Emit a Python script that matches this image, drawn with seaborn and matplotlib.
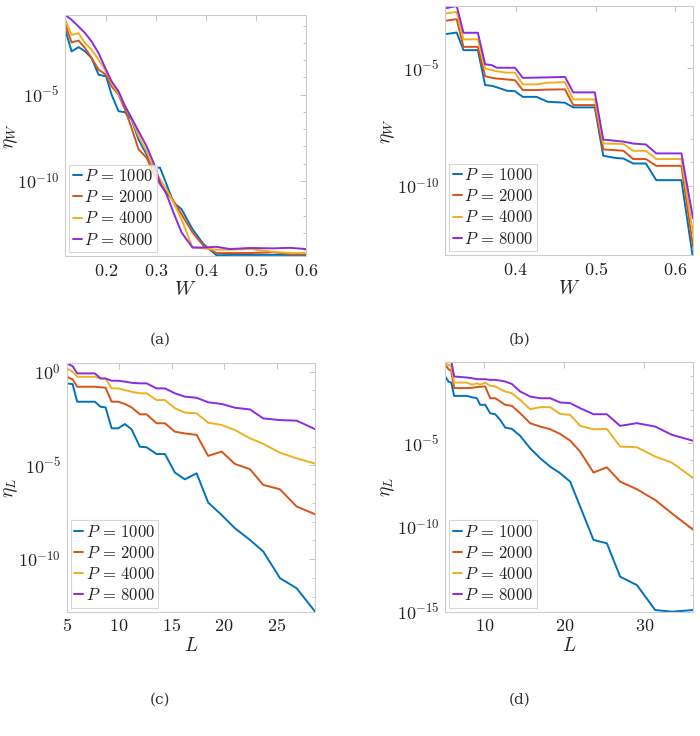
import matplotlib
matplotlib.use("Agg")
import matplotlib.pyplot as plt
import matplotlib.ticker as mticker
import numpy as np
import pandas as pd
import seaborn as sb

# ---- data (values are log10 of eta) ----
P_vals = [1000, 2000, 4000, 8000]
colors = ["#0072BD", "#D95319", "#EDB120", "#8A2BE2"]

# (a) eta_W vs W
W_a = [0.118, 0.131, 0.145, 0.158, 0.171, 0.185, 0.2, 0.211, 0.225, 0.238, 0.251, 0.265, 0.281,
       0.295, 0.308, 0.321, 0.335, 0.351, 0.373, 0.395, 0.421, 0.448, 0.488, 0.535, 0.568, 0.6]
logeta_a_1000 = [-1.21, -2.50, -2.25, -2.50, -2.88, -3.85, -3.94, -5.0, -5.96, -6.02, -6.44, -7.60, -8.46,
                 -9.23, -9.23, -10.19, -11.25, -11.63, -12.79, -13.65, -14.30, -14.28, -14.28, -14.28, -14.28, -14.28]
logeta_a_2000 = [-0.90, -1.98, -1.87, -2.31, -2.88, -3.56, -3.85, -4.52, -5.0, -5.87, -6.92, -8.17, -8.65,
                 -9.52, -10.19, -10.67, -11.15, -11.92, -12.98, -13.75, -14.17, -14.17, -14.17, -14.13, -14.23, -14.23]
logeta_a_4000 = [-0.67, -1.54, -1.44, -2.02, -2.40, -2.98, -3.65, -4.33, -4.96, -5.67, -6.40, -7.40, -8.27,
                 -9.23, -9.90, -10.48, -11.25, -12.21, -13.85, -13.90, -13.98, -13.98, -13.94, -14.10, -14.17, -14.17]
logeta_a_8000 = [-0.38, -0.67, -1.06, -1.44, -1.92, -2.60, -3.56, -4.23, -4.81, -5.67, -6.35, -7.12, -7.98,
                 -8.94, -10.10, -10.77, -11.83, -12.98, -13.85, -13.85, -13.81, -13.94, -13.88, -13.90, -13.87, -13.94]

# (b) eta_W vs W
W_b = [0.3116, 0.326, 0.3345, 0.3525, 0.3616, 0.370, 0.376, 0.389, 0.399, 0.4087, 0.426, 0.44,
       0.4616, 0.472, 0.499, 0.5096, 0.524, 0.535, 0.547, 0.563, 0.576, 0.6075, 0.622]
logeta_b_1000 = [-3.54, -3.47, -4.22, -4.22, -5.71, -5.74, -5.80, -5.95, -5.97, -6.21, -6.21, -6.42,
                 -6.46, -6.66, -6.66, -8.72, -8.81, -8.84, -9.05, -9.05, -9.76, -9.76, -13.1]
logeta_b_2000 = [-2.97, -2.90, -4.08, -4.08, -5.33, -5.40, -5.43, -5.47, -5.50, -5.92, -5.92, -5.90,
                 -5.89, -6.56, -6.56, -8.45, -8.48, -8.51, -8.86, -8.86, -9.15, -9.15, -12.6]
logeta_b_4000 = [-2.66, -2.59, -3.76, -3.76, -5.0, -5.07, -5.12, -5.18, -5.18, -5.68, -5.68, -5.61,
                 -5.58, -6.32, -6.32, -8.20, -8.21, -8.22, -8.51, -8.51, -8.86, -8.86, -12.03]
logeta_b_8000 = [-2.44, -2.34, -3.48, -3.48, -4.82, -4.86, -4.97, -4.97, -4.97, -5.40, -5.39, -5.38,
                 -5.36, -6.02, -6.02, -8.03, -8.08, -8.12, -8.20, -8.24, -8.62, -8.62, -11.39]

# (c) eta_L vs L
L_c = [5.0, 5.56, 6.0, 7.68, 8.23, 8.7, 9.28, 9.9, 10.54, 11.18, 11.97, 12.61, 13.56,
       14.36, 15.31, 16.26, 17.38, 18.48, 19.76, 21.03, 22.46, 23.73, 25.32, 26.91, 28.66]
logeta_c_1000 = [-0.62, -0.66, -1.60, -1.60, -1.87, -1.90, -3.02, -3.02, -2.79, -3.07, -4.0, -4.03, -4.39,
                 -4.39, -5.38, -5.74, -5.42, -6.98, -7.64, -8.35, -8.97, -9.59, -11.01, -11.55, -12.79]
logeta_c_2000 = [-0.27, -0.41, -0.80, -0.80, -0.83, -0.85, -1.60, -1.60, -1.72, -1.90, -2.27, -2.27, -2.75,
                 -2.75, -3.20, -3.29, -3.37, -4.49, -4.26, -4.92, -5.20, -6.04, -6.27, -7.19, -7.60]
logeta_c_4000 = [0.18, 0.0, -0.27, -0.27, -0.36, -0.36, -0.89, -0.89, -0.98, -1.07, -1.15, -1.15, -1.51,
                 -1.51, -1.95, -2.18, -2.22, -2.72, -2.84, -3.11, -3.55, -3.85, -4.32, -4.62, -4.90]
logeta_c_8000 = [0.44, 0.30, -0.09, -0.09, -0.36, -0.36, -0.48, -0.48, -0.53, -0.59, -0.62, -0.62, -0.89,
                 -0.89, -1.15, -1.33, -1.39, -1.63, -1.72, -1.92, -2.01, -2.49, -2.58, -2.61, -3.06]

# (d) eta_L vs L
L_d = [5.09, 5.5, 5.84, 6.21, 7.8, 8.43, 9.05, 9.46, 10.09, 10.71, 11.34, 11.96, 12.59, 13.42,
       14.46, 15.71, 16.96, 18.21, 19.46, 20.71, 21.96, 23.63, 25.3, 26.96, 29.05, 31.34, 33.42, 36.13]
logeta_d_1000 = [-1.04, -1.34, -1.40, -2.19, -2.19, -2.27, -2.33, -2.72, -2.72, -3.22, -3.28, -3.61, -4.07, -4.15,
                 -4.56, -5.30, -5.89, -6.39, -6.78, -7.28, -8.76, -10.74, -10.94, -12.92, -13.42, -14.90, -15.0, -14.90]
logeta_d_2000 = [-0.35, -0.60, -0.70, -1.73, -1.73, -1.71, -1.67, -1.65, -1.63, -2.33, -2.33, -2.52, -2.72, -2.78,
                 -3.22, -3.81, -4.01, -4.17, -4.45, -4.84, -5.50, -6.74, -6.43, -7.28, -7.73, -8.37, -9.16, -10.15]
logeta_d_4000 = [-0.25, -0.35, -0.41, -1.40, -1.40, -1.53, -1.44, -1.53, -1.40, -1.59, -1.63, -1.79, -1.93, -2.03,
                 -2.43, -2.98, -2.86, -2.86, -3.26, -3.32, -3.97, -4.17, -4.15, -5.20, -5.24, -5.79, -6.15, -7.08]
logeta_d_8000 = [-0.10, -0.10, -0.10, -1.04, -1.10, -1.14, -1.20, -1.20, -1.20, -1.24, -1.24, -1.28, -1.34, -1.48,
                 -1.93, -2.23, -2.33, -2.33, -2.58, -2.62, -2.92, -3.28, -3.28, -3.97, -3.81, -4.01, -4.50, -4.86]


def make_df(x, series, xname):
    rows = []
    for p, vals in zip(P_vals, series):
        for xi, v in zip(x, vals):
            rows.append({xname: xi, "eta": 10.0 ** v, "label": f"$P\\,=\\,{p}$"})
    return pd.DataFrame(rows)


sb.set_style("white")
plt.rcParams["font.family"] = ["DejaVu Serif"]
plt.rcParams["mathtext.fontset"] = "cm"

fig = plt.figure(figsize=(7.0, 7.36), dpi=100)

panels = [
    dict(pos=[0.093, 0.652, 0.344, 0.3274], x=W_a,
         ser=[logeta_a_1000, logeta_a_2000, logeta_a_4000, logeta_a_8000],
         xname="W", ylab=r"$\eta_W$", xlim=(0.118, 0.6), ylim=(-14.35, -0.4),
         xt=[0.2, 0.3, 0.4, 0.5, 0.6], yt=[-5, -10], cap="(a)", capxy=(160, 340), ylx=20),
    dict(pos=[0.636, 0.6535, 0.354, 0.338], x=W_b,
         ser=[logeta_b_1000, logeta_b_2000, logeta_b_4000, logeta_b_8000],
         xname="W", ylab=r"$\eta_W$", xlim=(0.3116, 0.622), ylim=(-12.95, -2.35),
         xt=[0.4, 0.5, 0.6], yt=[-5, -10], cap="(b)", capxy=(520, 340), ylx=397),
    dict(pos=[0.0953, 0.1689, 0.3547, 0.3375], x=L_c,
         ser=[logeta_c_1000, logeta_c_2000, logeta_c_4000, logeta_c_8000],
         xname="L", ylab=r"$\eta_L$", xlim=(5, 28.66), ylim=(-12.8, 0.45),
         xt=[5, 10, 15, 20, 25], yt=[0, -5, -10], cap="(c)", capxy=(160, 700), ylx=20),
    dict(pos=[0.636, 0.1689, 0.3547, 0.339], x=L_d,
         ser=[logeta_d_1000, logeta_d_2000, logeta_d_4000, logeta_d_8000],
         xname="L", ylab=r"$\eta_L$", xlim=(5.09, 36.13), ylim=(-15.0, -0.19),
         xt=[10, 20, 30], yt=[-5, -10, -15], cap="(d)", capxy=(520, 700), ylx=397),
]

edge = "#cccccc"
for pn in panels:
    ax = fig.add_axes(pn["pos"])
    df = make_df(pn["x"], pn["ser"], pn["xname"])
    sb.lineplot(data=df, x=pn["xname"], y="eta", hue="label", palette=colors,
                linewidth=1.4, ax=ax, legend=True)
    ax.set_yscale("log")
    ax.set_xlim(*pn["xlim"])
    ax.set_ylim(10.0 ** pn["ylim"][0], 10.0 ** pn["ylim"][1])

    ax.xaxis.set_major_locator(mticker.FixedLocator(pn["xt"]))
    ax.xaxis.set_major_formatter(mticker.FuncFormatter(lambda v, _: f"${v:g}$"))
    ax.xaxis.set_minor_locator(mticker.NullLocator())
    ax.yaxis.set_major_locator(mticker.FixedLocator([10.0 ** e for e in pn["yt"]]))
    ax.yaxis.set_major_formatter(mticker.FuncFormatter(
        lambda v, _: f"$10^{{{int(round(np.log10(v)))}}}$"))
    decades = np.arange(int(np.floor(pn["ylim"][0])), int(np.ceil(pn["ylim"][1])) + 1)
    ax.yaxis.set_minor_locator(mticker.FixedLocator([10.0 ** d for d in decades]))
    ax.yaxis.set_minor_formatter(mticker.NullFormatter())

    ax.tick_params(which="both", direction="in", top=True, right=True,
                   color="#bbbbbb", labelsize=13, labelcolor="#222222", pad=4)
    ax.tick_params(which="major", length=4, width=0.6)
    ax.tick_params(which="minor", length=2.5, width=0.6)
    for s in ax.spines.values():
        s.set_color(edge)
        s.set_linewidth(0.8)

    ax.set_xlabel(f"${pn['xname']}$", fontsize=14, labelpad=1)
    ax.set_ylabel(pn["ylab"], fontsize=14)
    # place y label so its right edge sits at the given pixel column
    left_px = pn["pos"][0] * 700
    ax.yaxis.set_label_coords((pn["ylx"] - left_px) / (pn["pos"][2] * 700), 0.5)

    leg = ax.legend(loc="lower left", fontsize=12, frameon=True, fancybox=False,
                    edgecolor=edge, borderaxespad=0.25, borderpad=0.2,
                    handlelength=0.55, handletextpad=0.15, labelspacing=0.25)
    leg.get_frame().set_linewidth(0.8)

    fig.text(pn["capxy"][0] / 700, 1 - pn["capxy"][1] / 736, pn["cap"],
             ha="center", va="center", fontsize=11, color="#333333")

fig.savefig("out.png", dpi=100)
